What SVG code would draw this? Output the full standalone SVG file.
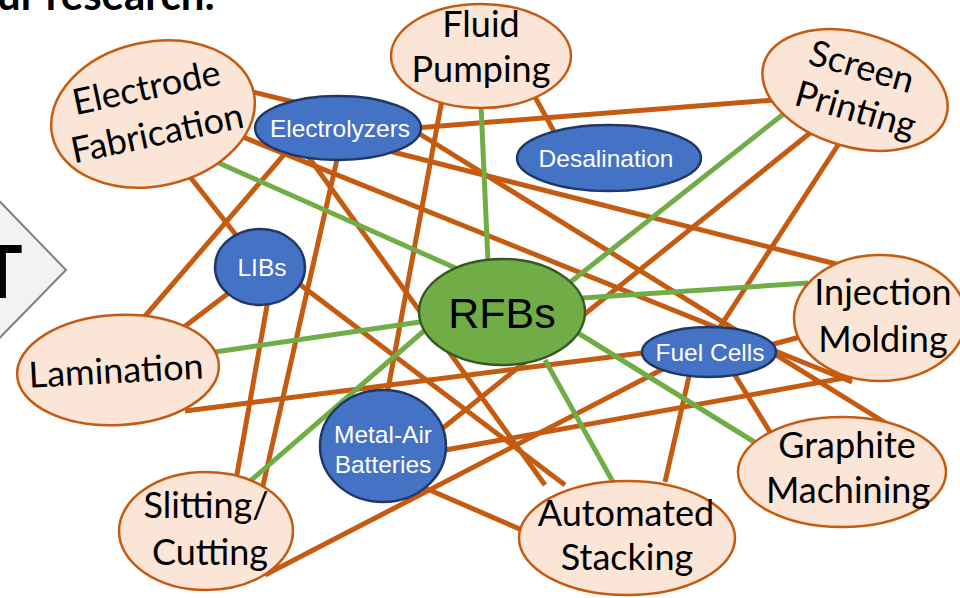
<svg xmlns="http://www.w3.org/2000/svg" width="960" height="598" viewBox="0 0 960 598">
<style>
.o{stroke:#C55A11;stroke-width:5;fill:none;stroke-linecap:butt}
.g{stroke:#70AD47;stroke-width:5;fill:none}
.p{fill:#FBE5D6;stroke:#C55A11;stroke-width:2.5}
.b{fill:#4472C4;stroke:#1F3864;stroke-width:2.5}
.r{fill:#70AD47;stroke:#385723;stroke-width:2.5}
.pt{font-family:Lato,"Liberation Sans",sans-serif;font-size:36px;fill:#000;text-anchor:middle}
.bt{font-family:"Liberation Sans",Arial,sans-serif;font-size:24.5px;fill:#fff;text-anchor:middle}
</style>
<rect width="960" height="598" fill="#fff"/>
<text x="-3" y="10" font-family="Lato,sans-serif" font-weight="bold" font-size="42" fill="#000">ur research:</text>
<g id="chevron">
<polygon points="-20,181 66,270 -20,358" fill="#F2F2F2" stroke="#808080" stroke-width="2"/>
<text x="1" y="298" font-family="Lato,sans-serif" font-weight="bold" font-size="72" text-anchor="middle" fill="#000">T</text>
</g>
<g id="connectors">
<line class="o" x1="245" y1="90" x2="310" y2="106"/>
<line class="o" x1="415" y1="128" x2="775" y2="100"/>
<line class="o" x1="535" y1="97" x2="556" y2="135"/>
<line class="o" x1="442" y1="100" x2="386" y2="400"/>
<line class="o" x1="385" y1="150" x2="840" y2="265"/>
<line class="o" x1="415" y1="131" x2="905" y2="435"/>
<line class="o" x1="305" y1="152" x2="545" y2="485"/>
<line class="o" x1="338" y1="155" x2="262" y2="490"/>
<line class="o" x1="288" y1="150" x2="140" y2="322"/>
<line class="o" x1="183" y1="168" x2="240" y2="240"/>
<line class="o" x1="238" y1="135" x2="852" y2="382"/>
<line class="o" x1="810" y1="133" x2="438" y2="432"/>
<line class="o" x1="840" y1="142" x2="718" y2="330"/>
<line class="o" x1="800" y1="337" x2="770" y2="345"/>
<line class="o" x1="855" y1="376" x2="440" y2="451"/>
<line class="o" x1="180" y1="330" x2="230" y2="292"/>
<line class="o" x1="185" y1="411" x2="650" y2="352"/>
<line class="o" x1="268" y1="300" x2="236" y2="480"/>
<line class="o" x1="298" y1="283" x2="565" y2="485"/>
<line class="o" x1="265" y1="575" x2="665" y2="368"/>
<line class="o" x1="665" y1="482" x2="690" y2="372"/>
<line class="o" x1="425" y1="488" x2="522" y2="530"/>
<line class="o" x1="733" y1="372" x2="770" y2="432"/>
<line class="g" x1="212" y1="160" x2="460" y2="270"/>
<line class="g" x1="481" y1="105" x2="488" y2="262"/>
<line class="g" x1="786" y1="112" x2="568" y2="284"/>
<line class="g" x1="582" y1="298" x2="808" y2="283"/>
<line class="g" x1="578" y1="333" x2="756" y2="443"/>
<line class="g" x1="545" y1="360" x2="613" y2="482"/>
<line class="g" x1="420" y1="322" x2="215" y2="352"/>
<line class="g" x1="425" y1="330" x2="248" y2="483"/>
</g>
<g id="electrode-fabrication" transform="rotate(-12 153 114)">
<ellipse class="p" cx="153" cy="114" rx="103" ry="72"/>
<text class="pt" x="152" y="99">Electrode</text>
<text class="pt" x="153" y="146">Fabrication</text>
</g>
<g id="fluid-pumping">
<ellipse class="p" cx="481" cy="56" rx="90" ry="52"/>
<text class="pt" x="481" y="37">Fluid</text>
<text class="pt" x="481" y="82">Pumping</text>
</g>
<g id="screen-printing" transform="rotate(16 855 90)">
<ellipse class="p" cx="855" cy="90" rx="95" ry="57"/>
<text class="pt" x="855" y="78">Screen</text>
<text class="pt" x="861" y="121">Printing</text>
</g>
<g id="electrolyzers">
<ellipse class="b" cx="338" cy="128" rx="83" ry="32"/>
<text class="bt" x="340" y="137">Electrolyzers</text>
</g>
<g id="desalination">
<ellipse class="b" cx="609" cy="158" rx="92" ry="33"/>
<text class="bt" x="606" y="167">Desalination</text>
</g>
<g id="libs">
<ellipse class="b" cx="260" cy="267" rx="45" ry="38"/>
<text class="bt" x="262" y="276">LIBs</text>
</g>
<g id="rfbs">
<ellipse class="r" cx="502" cy="312" rx="83" ry="53"/>
<text x="502" y="328" font-family="'Liberation Sans',Arial,sans-serif" font-size="43" text-anchor="middle" fill="#000">RFBs</text>
</g>
<g id="injection-molding">
<ellipse class="p" cx="880" cy="318" rx="86" ry="63"/>
<text class="pt" x="883" y="305">Injection</text>
<text class="pt" x="883" y="352">Molding</text>
</g>
<g id="fuel-cells">
<ellipse class="b" cx="709" cy="352" rx="67" ry="25"/>
<text class="bt" x="710" y="361">Fuel Cells</text>
</g>
<g id="lamination" transform="rotate(-3 118 370)">
<ellipse class="p" cx="118" cy="370" rx="101" ry="55"/>
<text class="pt" x="116" y="383">Lamination</text>
</g>
<g id="metal-air-batteries">
<ellipse class="b" cx="383" cy="446" rx="63" ry="56"/>
<text class="bt" x="383" y="443">Metal-Air</text>
<text class="bt" x="383" y="473">Batteries</text>
</g>
<g id="slitting-cutting">
<ellipse class="p" cx="206" cy="531" rx="87" ry="59"/>
<text class="pt" x="206" y="518">Slitting/</text>
<text class="pt" x="210" y="565">Cutting</text>
</g>
<g id="automated-stacking">
<ellipse class="p" cx="627" cy="538" rx="108" ry="57"/>
<text class="pt" x="626" y="526">Automated</text>
<text class="pt" x="627" y="570">Stacking</text>
</g>
<g id="graphite-machining">
<ellipse class="p" cx="842" cy="472" rx="104" ry="55"/>
<text class="pt" x="847" y="458">Graphite</text>
<text class="pt" x="848" y="503">Machining</text>
</g>
</svg>
